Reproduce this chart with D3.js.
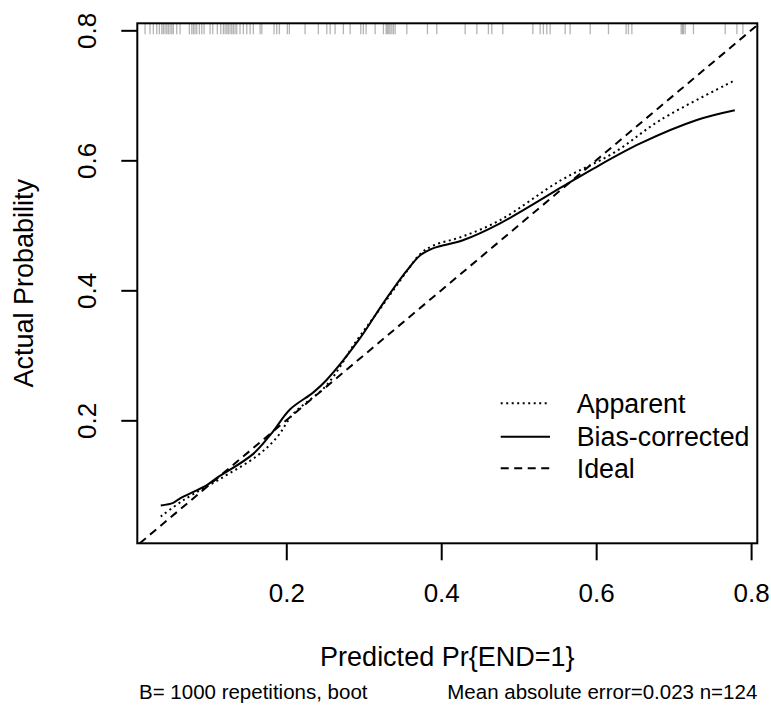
<!DOCTYPE html>
<html>
<head>
<meta charset="utf-8">
<script src="https://cdn.jsdelivr.net/npm/d3@7"></script>
<style>
  html, body { margin: 0; padding: 0; background: #fff; }
  svg { display: block; font-family: "Liberation Sans", Arial, sans-serif; }
</style>
</head>
<body>
<svg id="chart" width="771" height="707"></svg>
<script>
// ---- data ----
const xTicks = [0.2, 0.4, 0.6, 0.8];
const yTicks = [0.2, 0.4, 0.6, 0.8];

const apparentX = [0.038, 0.067, 0.119, 0.162, 0.188, 0.209, 0.252, 0.291, 0.325, 0.356, 0.373, 0.390, 0.428, 0.476, 0.554, 0.622, 0.683, 0.779];
const apparentY = [0.052, 0.077, 0.113, 0.145, 0.174, 0.210, 0.254, 0.323, 0.378, 0.430, 0.456, 0.469, 0.483, 0.508, 0.569, 0.611, 0.662, 0.723];

const biasX = [0.038, 0.054, 0.063, 0.097, 0.110, 0.157, 0.181, 0.205, 0.235, 0.252, 0.295, 0.325, 0.356, 0.373, 0.390, 0.428, 0.476, 0.556, 0.596, 0.657, 0.730, 0.779];
const biasY = [0.069, 0.073, 0.080, 0.100, 0.111, 0.148, 0.180, 0.217, 0.243, 0.262, 0.326, 0.380, 0.431, 0.454, 0.465, 0.477, 0.503, 0.559, 0.587, 0.626, 0.662, 0.677];

const predicted = [0.0177, 0.0241, 0.0284, 0.0328, 0.0362, 0.0393, 0.0413, 0.0435, 0.0457, 0.0478,
  0.0500, 0.0522, 0.0542, 0.0586, 0.0629, 0.0749, 0.0780, 0.0801, 0.0822, 0.0844, 0.0878, 0.0909,
  0.0939, 0.1016, 0.1051, 0.1110, 0.1154, 0.1188, 0.1210, 0.1232, 0.1252, 0.1274, 0.1296, 0.1317,
  0.1339, 0.1361, 0.1403, 0.1446, 0.1490, 0.1533, 0.1575, 0.1662, 0.1684, 0.1842, 0.1877, 0.1911,
  0.2014, 0.2040, 0.2243, 0.2414, 0.2523, 0.2566, 0.2630, 0.2737, 0.2824, 0.2962, 0.2995, 0.3030,
  0.3147, 0.3254, 0.3289, 0.3305, 0.3323, 0.3340, 0.3362, 0.3383, 0.3405, 0.3556, 0.3822, 0.3943,
  0.4309, 0.4460, 0.4609, 0.4653, 0.4795, 0.5183, 0.5277, 0.5319, 0.5363, 0.5406, 0.5600, 0.5664,
  0.5923, 0.6159, 0.6387, 0.6417, 0.6461, 0.7097, 0.7114, 0.7127, 0.7149, 0.7256, 0.7666, 0.7817, 0.7894];

const legendLabels = ["Apparent", "Bias-corrected", "Ideal"];
const xTitle = "Predicted Pr{END=1}";
const yTitle = "Actual Probability";
const subLeft = "B= 1000 repetitions, boot";
const subRight = "Mean absolute error=0.023 n=124";

// ---- layout ----
const L = 137.3, R = 757.3, T = 23.3, B = 543.3;
const svg = d3.select("#chart");
const x = d3.scaleLinear().domain([0.0077, 0.808]).range([L, R]);
const y = d3.scaleLinear().domain([0.0108, 0.8108]).range([B, T]);

const dashIdeal = "8,5.5";
const dotApp = "2,3.5";

svg.append("defs").append("clipPath").attr("id", "clip")
  .append("rect").attr("x", L).attr("y", T).attr("width", R - L).attr("height", B - T);

// rug at top
svg.append("g").selectAll("line").data(predicted).join("line")
  .attr("x1", d => x(d)).attr("x2", d => x(d))
  .attr("y1", T).attr("y2", T + 11)
  .attr("stroke", "#444").attr("stroke-opacity", 0.4).attr("stroke-width", 1.3);

const g = svg.append("g").attr("clip-path", "url(#clip)");

// ideal line
const dom = [Math.max(x.domain()[0], y.domain()[0]), Math.min(x.domain()[1], y.domain()[1]) + 0.01];
g.append("line")
  .attr("x1", x(dom[0])).attr("y1", y(dom[0]))
  .attr("x2", x(dom[1])).attr("y2", y(dom[1]))
  .attr("stroke", "#000").attr("stroke-width", 2).attr("stroke-dasharray", dashIdeal);

const line = d3.line().x(d => x(d[0])).y(d => y(d[1])).curve(d3.curveCatmullRom.alpha(0.5));

g.append("path").datum(apparentX.map((v, i) => [v, apparentY[i]]))
  .attr("d", line).attr("fill", "none").attr("stroke", "#000")
  .attr("stroke-width", 2).attr("stroke-dasharray", dotApp);

g.append("path").datum(biasX.map((v, i) => [v, biasY[i]]))
  .attr("d", line).attr("fill", "none").attr("stroke", "#000")
  .attr("stroke-width", 2);

// box
svg.append("rect").attr("x", L).attr("y", T).attr("width", R - L).attr("height", B - T)
  .attr("fill", "none").attr("stroke", "#000").attr("stroke-width", 2);

// x axis
const xAxis = svg.append("g").attr("transform", `translate(0,${B})`)
  .call(d3.axisBottom(x).tickValues(xTicks).tickSize(17).tickSizeOuter(0).tickFormat(d3.format(".1f")));
xAxis.select(".domain").remove();
xAxis.selectAll(".tick line").attr("stroke-width", 2);
xAxis.selectAll(".tick text").attr("y", 0).attr("dy", 0)
  .attr("transform", "translate(0,59)")
  .attr("font-size", 26).attr("font-family", "Liberation Sans, Arial, sans-serif").attr("fill", "#000");

// y axis
const yAxis = svg.append("g").attr("transform", `translate(${L},0)`)
  .call(d3.axisLeft(y).tickValues(yTicks).tickSize(16).tickSizeOuter(0).tickFormat(d3.format(".1f")));
yAxis.select(".domain").remove();
yAxis.selectAll(".tick line").attr("stroke-width", 2);
yAxis.selectAll(".tick text")
  .attr("x", 0).attr("dy", 0)
  .attr("transform", `translate(${96 - L},0) rotate(-90)`)
  .attr("text-anchor", "middle")
  .attr("font-size", 26).attr("font-family", "Liberation Sans, Arial, sans-serif").attr("fill", "#000");

// titles
svg.append("text").attr("x", (L + R) / 2).attr("y", 666).attr("text-anchor", "middle")
  .attr("font-size", 27).text(xTitle);
svg.append("text").attr("transform", `translate(33,${(T + B) / 2}) rotate(-90)`)
  .attr("text-anchor", "middle").attr("font-size", 27).text(yTitle);

svg.append("text").attr("x", 139).attr("y", 699).attr("font-size", 20.5).text(subLeft);
svg.append("text").attr("x", R).attr("y", 699).attr("text-anchor", "end").attr("font-size", 20.5).text(subRight);

// legend
const legDash = [dotApp, null, dashIdeal];
const legY = [403.3, 436.7, 468.3];
const leg = svg.append("g");
legendLabels.forEach((lab, i) => {
  const ln = leg.append("line").attr("x1", 500.7).attr("x2", 550).attr("y1", legY[i]).attr("y2", legY[i])
    .attr("stroke", "#000").attr("stroke-width", 2);
  if (legDash[i]) ln.attr("stroke-dasharray", legDash[i]);
  leg.append("text").attr("x", 576.7).attr("y", legY[i] + 9.6).attr("font-size", 26.8).text(lab);
});
</script>
</body>
</html>
